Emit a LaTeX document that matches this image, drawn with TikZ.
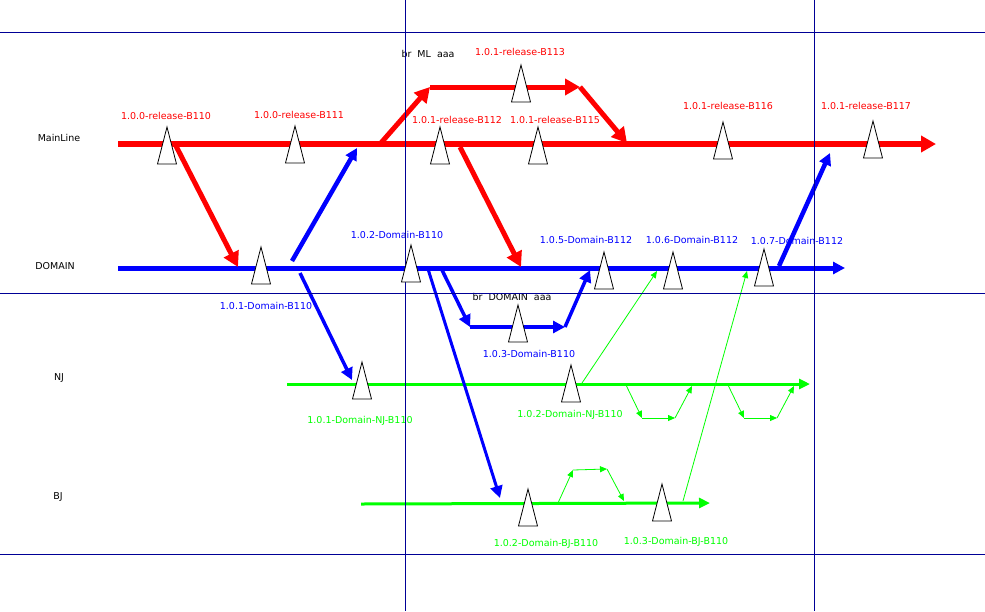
\documentclass[tikz,border=0pt]{standalone}
\usepackage{xcolor}
\usepackage{fontspec}
\setmainfont{DejaVu Sans}
\usepackage{tikz}
\usetikzlibrary{arrows.meta}
\definecolor{gridblue}{RGB}{0,0,150}

\begin{document}
\begin{tikzpicture}[x=1pt,y=-1pt,
	every node/.style={font=\fontsize{9.5}{11}\selectfont, inner sep=0pt},
	mlarrow/.style={red, line width=5.5pt, -{Triangle[length=15pt,width=16pt]}},
	domarrow/.style={blue, line width=4.5pt, -{Triangle[length=12pt,width=12pt]}},
	subarrow/.style={green, line width=3pt, -{Triangle[length=11pt,width=10pt]}},
	thinarrow/.style={green, line width=0.8pt, -{Triangle[length=7pt,width=6pt]}},
	gridline/.style={gridblue, line width=1pt}]
			\useasboundingbox (0,0) rectangle (985,611);
			\coordinate (mlS) at (118,144);
			\coordinate (mlE) at (936,144);
			\coordinate (domS) at (118,268);
			\coordinate (domE) at (845,268);
			\coordinate (njS) at (287,384);
			\coordinate (njE) at (810,384);
			\coordinate (bjS) at (361,504);
			\coordinate (bjE) at (710,503);
			\coordinate (brml1) at (380,144);
			\coordinate (brml2) at (430,87);
			\coordinate (brml3) at (580,87);
			\coordinate (brml4) at (627,143);
			\coordinate (brdom1) at (441,268);
			\coordinate (brdom2) at (470,327);
			\coordinate (brdom3) at (565,327);
			\coordinate (brdom4) at (590,270);
			\coordinate (red1) at (176,146);
			\coordinate (red2) at (238,267);
			\coordinate (red3) at (460,147);
			\coordinate (red4) at (521,267);
			\coordinate (blue1) at (292,261);
			\coordinate (blue2) at (357,148);
			\coordinate (blue3) at (779,266);
			\coordinate (blue4) at (830,153);
			\coordinate (blue5) at (300,273);
			\coordinate (blue6) at (352,380);
			\coordinate (blue7) at (428,269);
			\coordinate (blue8) at (500,498);
			\coordinate (green1) at (582,383);
			\coordinate (green2) at (657,271);
			\coordinate (green3) at (683,501);
			\coordinate (green4) at (747,271);
			\coordinate (loopa1) at (626,385);
			\coordinate (loopa2) at (642,418);
			\coordinate (loopa3) at (675,418);
			\coordinate (loopa4) at (692,386);
			\coordinate (loopb1) at (728,385);
			\coordinate (loopb2) at (744,418);
			\coordinate (loopb3) at (777,418);
			\coordinate (loopb4) at (794,386);
			\coordinate (loopc1) at (558,503);
			\coordinate (loopc2) at (573,470);
			\coordinate (loopc3) at (607,469);
			\coordinate (loopc4) at (624,501);
			\draw[mlarrow] (mlS) -- (mlE);
			\draw[domarrow, line width=5pt] (domS) -- (domE);
			\draw[subarrow] (njS) -- (njE);
			\draw[subarrow] (bjS) -- (bjE);
			\draw[mlarrow, line width=5pt] (brml1) -- (brml2);
			\draw[mlarrow, line width=5pt] (brml2) -- (brml3);
			\draw[mlarrow, line width=5pt] (brml3) -- (brml4);
			\draw[mlarrow, line width=5pt] (red1) -- (red2);
			\draw[mlarrow, line width=5pt] (red3) -- (red4);
			\draw[domarrow] (blue1) -- (blue2);
			\draw[domarrow] (blue3) -- (blue4);
			\draw[domarrow, line width=3.5pt] (blue5) -- (blue6);
			\draw[domarrow, line width=3pt] (blue7) -- (blue8);
			\draw[domarrow, line width=3.5pt] (brdom1) -- (brdom2);
			\draw[domarrow, line width=3.5pt] (brdom2) -- (brdom3);
			\draw[domarrow, line width=3.5pt] (brdom3) -- (brdom4);
			\draw[thinarrow] (green1) -- (green2);
			\draw[thinarrow] (green3) -- (green4);
			\draw[thinarrow] (loopa1) -- (loopa2);
			\draw[thinarrow] (loopa2) -- (loopa3);
			\draw[thinarrow] (loopa3) -- (loopa4);
			\draw[thinarrow] (loopb1) -- (loopb2);
			\draw[thinarrow] (loopb2) -- (loopb3);
			\draw[thinarrow] (loopb3) -- (loopb4);
			\draw[thinarrow] (loopc1) -- (loopc2);
			\draw[thinarrow] (loopc2) -- (loopc3);
			\draw[thinarrow] (loopc3) -- (loopc4);
			\node (mainline) at (59,138) {MainLine};
			\node (domain) at (55,266) {DOMAIN};
			\node (nj) at (59,378) {NJ};
			\node (bj) at (58,497) {BJ};
			\node (brml) at (428,54) {br\ \ ML\ \ aaa};
			\node (brdom) at (512,297) {br\ \ DOMAIN\ \ aaa};
			\node[text=red] (rel110) at (166,116) {1.0.0-release-B110};
			\node[text=red] (rel111) at (299,115) {1.0.0-release-B111};
			\node[text=red] (rel112) at (457,120) {1.0.1-release-B112};
			\node[text=red] (rel113) at (520,52) {1.0.1-release-B113};
			\node[text=red] (rel115) at (555,120) {1.0.1-release-B115};
			\node[text=red] (rel116) at (728,106) {1.0.1-release-B116};
			\node[text=red] (rel117) at (866,106) {1.0.1-release-B117};
			\node[text=blue] (dom101) at (266,306) {1.0.1-Domain-B110};
			\node[text=blue] (dom102) at (397,235) {1.0.2-Domain-B110};
			\node[text=blue] (dom103) at (529,354) {1.0.3-Domain-B110};
			\node[text=blue] (dom105) at (586,240) {1.0.5-Domain-B112};
			\node[text=blue] (dom106) at (692,240) {1.0.6-Domain-B112};
			\node[text=blue] (dom107) at (797,241) {1.0.7-Domain-B112};
			\node[text=green] (nj101) at (360,421) {1.0.1-Domain-NJ-B110};
			\node[text=green] (nj102) at (570,415) {1.0.2-Domain-NJ-B110};
			\node[text=green] (bj102) at (546,544) {1.0.2-Domain-BJ-B110};
			\node[text=green] (bj103) at (676,542) {1.0.3-Domain-BJ-B110};
			\draw[gridline] (0,32) -- (985,32);
			\draw[gridline] (0,293) -- (985,293);
			\draw[gridline] (0,554) -- (985,554);
			\draw[gridline] (405,0) -- (405,611);
			\draw[gridline] (814,0) -- (814,611);
			\foreach \x/\y in {167/127, 295/126, 440/127, 538/127, 723/122, 873/121, 521/65,
				261/247, 411/245, 604/252, 673/252, 764/249, 518/305,
				362/362, 571/365, 528/489, 662/484}
				\filldraw[fill=white, draw=black, line width=0.8pt] (\x,\y) -- (\x+9.5,\y+37) -- (\x-9.5,\y+37) -- cycle;
		\end{tikzpicture}
\end{document}
